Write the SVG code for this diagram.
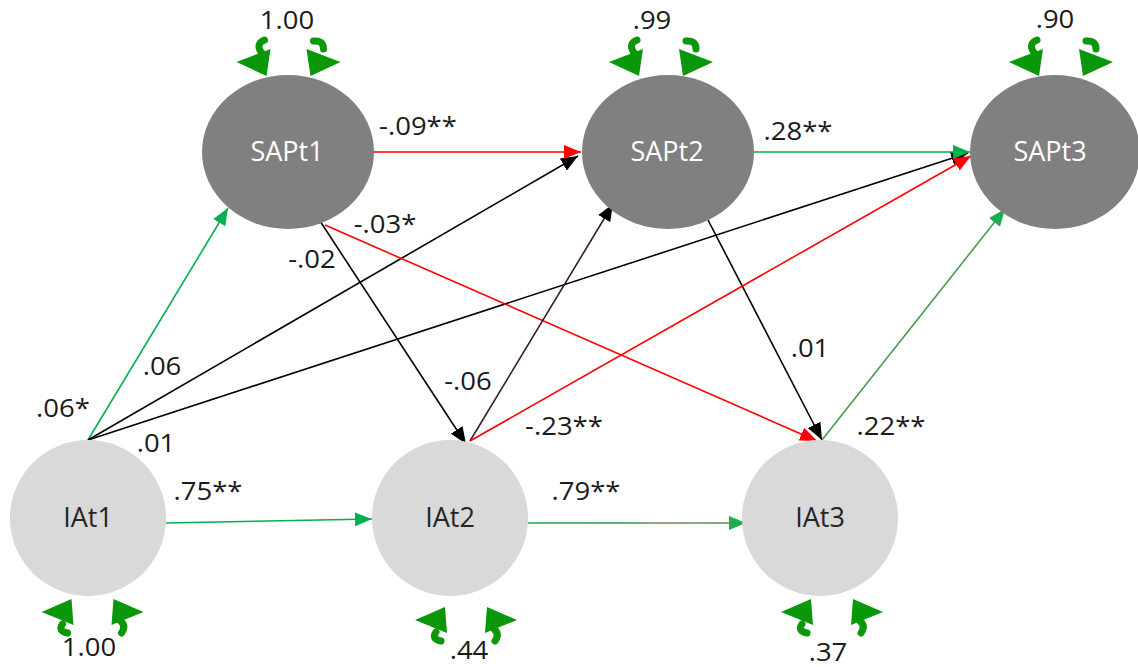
<svg xmlns="http://www.w3.org/2000/svg" width="1138" height="667" viewBox="0 0 1138 667">
<defs>
<style>
.sap{fill:#808080}
.ia{fill:#d9d9d9}
.nl{font-family:"Open Sans","Liberation Sans",sans-serif;font-size:27px;text-anchor:middle}
.sl{fill:#ffffff}
.il{fill:#262626}
.el{font-family:"Open Sans","Liberation Sans",sans-serif;font-size:25px;text-anchor:middle;fill:#1a1a1a}
.e{fill:none;stroke-width:1.6}
.g{stroke:#00b050}
.k{stroke:#000000}
.r{stroke:#ff0000}
.b{stroke:#3a1c1c}
.dg{stroke:#4a9a50}
.lt{fill:#0a970a}
.lh{fill:none;stroke:#0a970a;stroke-width:7;stroke-linecap:round}
</style>
<linearGradient id="gIA" gradientUnits="userSpaceOnUse" x1="528" y1="0" x2="746" y2="0">
<stop offset="0" stop-color="#1aa84a"/>
<stop offset="0.5" stop-color="#2a9a48"/>
<stop offset="0.55" stop-color="#6a8a5a"/>
<stop offset="1" stop-color="#5a8a55"/>
</linearGradient>
<marker id="mg" markerUnits="userSpaceOnUse" markerWidth="18" markerHeight="14" refX="17" refY="7" orient="auto"><path d="M0,0 L17,7 L0,14 Z" fill="#00b050"/></marker>
<marker id="mdg" markerUnits="userSpaceOnUse" markerWidth="18" markerHeight="14" refX="17" refY="7" orient="auto"><path d="M0,0 L17,7 L0,14 Z" fill="#1aae50"/></marker>
<marker id="mk" markerUnits="userSpaceOnUse" markerWidth="18" markerHeight="14" refX="17" refY="7" orient="auto"><path d="M0,0 L17,7 L0,14 Z" fill="#000000"/></marker>
<marker id="mr" markerUnits="userSpaceOnUse" markerWidth="18" markerHeight="14" refX="17" refY="7" orient="auto"><path d="M0,0 L17,7 L0,14 Z" fill="#ff0000"/></marker>
<g id="loopTop">
<path class="lt" d="M-52,62 L-18,49 L-22,76 Z"/>
<path class="lh" d="M-26,54 Q-34,44 -24,40"/>
<path class="lt" d="M52,62 L18,49 L22,76 Z"/>
<path class="lh" d="M25,41 Q35,40 35,49"/>
</g>
<g id="loopBot">
<path class="lt" d="M-51,612 L-21,599 L-19,625 Z"/>
<path class="lh" d="M-30,624 Q-35,631 -25,633"/>
<path class="lt" d="M51,612 L21,599 L19,625 Z"/>
<path class="lh" d="M28,621 Q34,626 29,633"/>
</g>
</defs>
<rect width="1138" height="667" fill="#ffffff"/>

<g id="connectors">
<line class="e g" x1="88" y1="440" x2="228" y2="208" marker-end="url(#mg)"/>
<line class="e k" x1="88" y1="440" x2="578" y2="156" marker-end="url(#mk)"/>
<line class="e k" x1="88" y1="440" x2="968" y2="153" stroke-width="1.2" marker-end="url(#mk)"/>
<line class="e r" x1="374" y1="152" x2="581" y2="152" marker-end="url(#mr)"/>
<line class="e k" x1="320" y1="221" x2="466" y2="444" marker-end="url(#mk)"/>
<line class="e r" x1="325" y1="225" x2="817" y2="441" stroke-width="1.3" marker-end="url(#mr)"/>
<line class="e g" x1="753" y1="152" x2="970" y2="152" marker-end="url(#mg)"/>
<line class="e k" x1="708" y1="220" x2="822" y2="440" marker-end="url(#mk)"/>
<line class="e b" x1="470" y1="441" x2="613" y2="204" marker-end="url(#mk)"/>
<line class="e r" x1="470" y1="441" x2="971" y2="156" marker-end="url(#mr)"/>
<line class="e dg" x1="822" y1="440" x2="1005" y2="209" marker-end="url(#mdg)"/>
<line class="e g" x1="166" y1="523" x2="372" y2="519" marker-end="url(#mg)"/>
<line class="e" x1="528" y1="523" x2="746" y2="523" stroke="url(#gIA)" stroke-width="2" marker-end="url(#mdg)"/>
</g>

<g id="SAPt1">
<ellipse class="sap" cx="288" cy="152" rx="86" ry="77"/>
<text class="nl sl" x="287" y="161">SAPt1</text>
<use href="#loopTop" x="288.5" y="0"/>
</g>
<g id="SAPt2">
<ellipse class="sap" cx="668" cy="152" rx="86" ry="77"/>
<text class="nl sl" x="667" y="161">SAPt2</text>
<use href="#loopTop" x="661" y="0"/>
</g>
<g id="SAPt3">
<ellipse class="sap" cx="1055" cy="152" rx="85" ry="77"/>
<text class="nl sl" x="1050" y="161">SAPt3</text>
<use href="#loopTop" x="1061" y="0"/>
</g>
<g id="IAt1">
<ellipse class="ia" cx="88" cy="518" rx="78" ry="78"/>
<text class="nl il" x="88" y="527">IAt1</text>
<use href="#loopBot" x="92.5" y="0"/>
</g>
<g id="IAt2">
<ellipse class="ia" cx="450" cy="518" rx="78" ry="78"/>
<text class="nl il" x="450" y="527">IAt2</text>
<use href="#loopBot" x="466" y="8"/>
</g>
<g id="IAt3">
<ellipse class="ia" cx="820" cy="518" rx="78" ry="78"/>
<text class="nl il" x="820" y="527">IAt3</text>
<use href="#loopBot" x="832" y="0"/>
</g>

<g id="labels">
<text class="el" transform="translate(287,29) scale(1.1,1)">1.00</text>
<text class="el" transform="translate(652,29) scale(1.1,1)">.99</text>
<text class="el" transform="translate(1055,28) scale(1.1,1)">.90</text>
<text class="el" transform="translate(89,656) scale(1.1,1)">1.00</text>
<text class="el" transform="translate(469,659) scale(1.1,1)">.44</text>
<text class="el" transform="translate(828,661) scale(1.1,1)">.37</text>
<text class="el" transform="translate(418,135) scale(1.1,1)">-.09**</text>
<text class="el" transform="translate(385,233) scale(1.1,1)">-.03*</text>
<text class="el" transform="translate(312,268) scale(1.1,1)">-.02</text>
<text class="el" transform="translate(798,140) scale(1.1,1)">.28**</text>
<text class="el" transform="translate(63,417) scale(1.1,1)">.06*</text>
<text class="el" transform="translate(162,375) scale(1.1,1)">.06</text>
<text class="el" transform="translate(156,452) scale(1.1,1)">.01</text>
<text class="el" transform="translate(468,390) scale(1.1,1)">-.06</text>
<text class="el" transform="translate(564,435) scale(1.1,1)">-.23**</text>
<text class="el" transform="translate(586,500) scale(1.1,1)">.79**</text>
<text class="el" transform="translate(208,500) scale(1.1,1)">.75**</text>
<text class="el" transform="translate(810,357) scale(1.1,1)">.01</text>
<text class="el" transform="translate(891,435) scale(1.1,1)">.22**</text>
</g>
</svg>
